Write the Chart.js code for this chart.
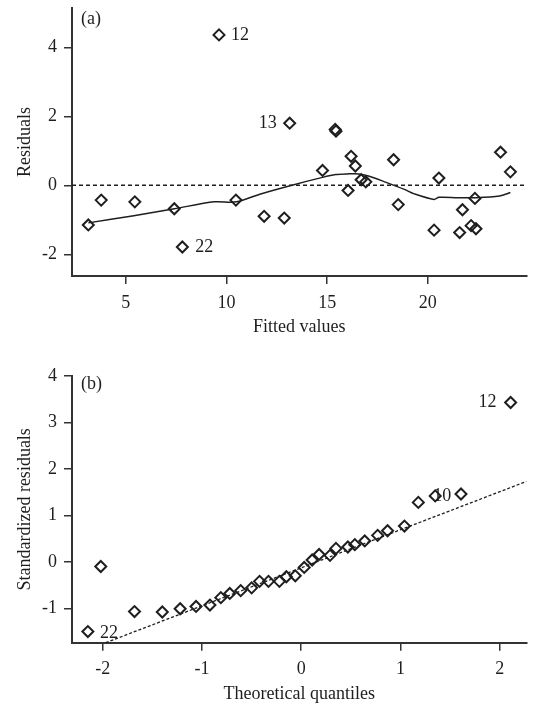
<!DOCTYPE html>
<html>
<head>
<meta charset="utf-8">
<script src="https://cdn.jsdelivr.net/npm/chart.js@4"></script>
<style>
  body { margin: 0; background: #fff; }
  canvas { position: absolute; left: 0; }
  #fitChart { top: 0; }
  #qqChart { top: 340px; }
</style>
</head>
<body>
<canvas id="fitChart" width="534" height="340"></canvas>
<canvas id="qqChart" width="534" height="366"></canvas>
<script>
// (a) residuals vs fitted
const fittedValues = [3.14, 3.78, 5.45, 7.41, 7.81, 9.63, 10.47, 11.87, 12.87, 13.14, 14.77, 15.40, 15.44, 16.04, 16.19, 16.40, 16.69, 16.92, 18.30, 18.53, 20.31, 20.55, 21.58, 21.72, 22.15, 22.34, 22.39, 23.61, 24.10];
const residuals = [-1.15, -0.43, -0.48, -0.68, -1.79, 4.36, -0.43, -0.90, -0.95, 1.80, 0.43, 1.62, 1.57, -0.15, 0.84, 0.56, 0.16, 0.10, 0.74, -0.56, -1.30, 0.21, -1.37, -0.71, -1.17, -0.38, -1.26, 0.96, 0.39];
const smoothX = [3.14, 5.4, 7.41, 9.4, 10.5, 11.7, 13.3, 14.77, 15.42, 16.0, 16.56, 17.05, 17.86, 18.84, 19.33, 20.3, 20.55, 21.5, 22.34, 23.56, 24.10];
const smoothY = [-1.09, -0.88, -0.68, -0.48, -0.48, -0.25, 0.01, 0.23, 0.31, 0.33, 0.33, 0.27, 0.10, -0.12, -0.25, -0.41, -0.35, -0.36, -0.36, -0.31, -0.21];
const fitXTicks = [5, 10, 15, 20];
const fitYTicks = [-2, 0, 2, 4];
const fitXRange = [2.33, 24.9];
const fitYRange = [-2.63, 5.14];
const fitLabelIndex = [5, 9, 4];
const fitLabelText = ['12', '13', '22'];

// (b) normal Q-Q
const theoQuantiles = [-2.15, -2.02, -1.68, -1.40, -1.22, -1.06, -0.92, -0.81, -0.72, -0.61, -0.50, -0.42, -0.33, -0.22, -0.15, -0.06, 0.03, 0.11, 0.18, 0.29, 0.35, 0.47, 0.54, 0.64, 0.77, 0.87, 1.04, 1.18, 1.35, 1.61, 2.11];
const stdResiduals = [-1.50, -0.10, -1.07, -1.08, -1.01, -0.96, -0.93, -0.77, -0.68, -0.62, -0.56, -0.42, -0.42, -0.42, -0.32, -0.30, -0.12, 0.04, 0.16, 0.14, 0.29, 0.32, 0.37, 0.45, 0.57, 0.67, 0.77, 1.28, 1.42, 1.46, 3.43];
const qqLineX = [-1.97, 2.27];
const qqLineY = [-1.74, 1.73];
const qqXTicks = [-2, -1, 0, 1, 2];
const qqYTicks = [-1, 0, 1, 2, 3, 4];
const qqXRange = [-2.31, 2.27];
const qqYRange = [-1.74, 4];
const qqLabelIndex = [0, 28, 30];
const qqLabelText = ['22', '10', '12'];

const FONT = '"Liberation Serif", "Times New Roman", serif';
const INK = '#1e1e1e';

const toPoints = (xs, ys) => xs.map((x, i) => ({ x: x, y: ys[i] }));

// draws the panel tag and the numbers next to the outlying points
const pointLabels = {
    id: 'pointLabels',
    afterDatasetsDraw(chart, args, opts) {
        const ctx = chart.ctx;
        const area = chart.chartArea;
        const xScale = chart.scales.x;
        const yScale = chart.scales.y;
        ctx.save();
        ctx.font = '18px ' + FONT;
        ctx.fillStyle = INK;
        ctx.textBaseline = 'middle';
        ctx.textAlign = 'left';
        ctx.fillText(opts.tag, area.left + 9, area.top + opts.tagDy);
        opts.items.forEach(item => {
            const px = xScale.getPixelForValue(item.x);
            const py = yScale.getPixelForValue(item.y);
            ctx.textAlign = item.side === 'left' ? 'right' : 'left';
            ctx.fillText(item.text, px + item.dx, py + (item.dy || 0));
        });
        ctx.restore();
    }
};

function axis(ticksList, range, size, horizontal, title, titlePad) {
    return {
        type: 'linear',
        min: range[0],
        max: range[1],
        afterBuildTicks: scale => { scale.ticks = ticksList.map(v => ({ value: v })); },
        afterFit: scale => {
            if (horizontal) scale.height = size; else scale.width = size;
            // no extra room for edge labels, the plot box is set by hand
            scale.paddingTop = 0;
            scale.paddingBottom = 0;
            scale.paddingLeft = 0;
            scale.paddingRight = 0;
        },
        grid: { drawOnChartArea: false, drawTicks: true, tickLength: 8, color: '#333', lineWidth: 1.5 },
        border: { display: true, color: '#333', width: 2 },
        ticks: { color: INK, font: { family: FONT, size: 18 }, padding: horizontal ? 8 : 7, maxRotation: 0, autoSkip: false },
        title: { display: true, text: title, color: INK, font: { family: FONT, size: 18 }, padding: titlePad }
    };
}

const markerStyle = {
    showLine: false,
    pointStyle: 'rectRot',
    pointRadius: 5.5,
    pointBorderWidth: 2,
    pointBorderColor: INK,
    pointBackgroundColor: 'rgba(0,0,0,0)',
    clip: false
};

const baseOptions = {
    responsive: false,
    animation: false,
    events: [],
    plugins: { legend: { display: false }, tooltip: { enabled: false } }
};

//fit chart starts
document.addEventListener('DOMContentLoaded', () => {
    const ctx = document.getElementById('fitChart').getContext('2d');
    new Chart(ctx, {
        type: 'scatter',
        data: {
            datasets: [
                Object.assign({ label: 'Residuals', data: toPoints(fittedValues, residuals) }, markerStyle),
                {
                    label: 'Smooth',
                    data: toPoints(smoothX, smoothY),
                    showLine: true, pointRadius: 0, borderColor: INK, borderWidth: 1.5, tension: 0.3, clip: false
                },
                {
                    label: 'Zero',
                    data: toPoints(fitXRange, [0, 0]),
                    showLine: true, pointRadius: 0, borderColor: INK, borderWidth: 1.5, borderDash: [4, 3]
                }
            ]
        },
        options: Object.assign({}, baseOptions, {
            layout: { padding: { top: 8, right: 0, bottom: 0, left: 0 } },
            scales: {
                x: axis(fitXTicks, fitXRange, 64, true, 'Fitted values', { top: 0, bottom: 2 }),
                y: axis(fitYTicks, fitYRange, 72, false, 'Residuals', { top: 14, bottom: 0 })
            },
            plugins: Object.assign({}, baseOptions.plugins, {
                pointLabels: {
                    tag: '(a)', tagDy: 11,
                    items: [
                        { x: fittedValues[fitLabelIndex[0]], y: residuals[fitLabelIndex[0]], text: fitLabelText[0], side: 'right', dx: 12 },
                        { x: fittedValues[fitLabelIndex[1]], y: residuals[fitLabelIndex[1]], text: fitLabelText[1], side: 'left', dx: -13 },
                        { x: fittedValues[fitLabelIndex[2]], y: residuals[fitLabelIndex[2]], text: fitLabelText[2], side: 'right', dx: 13 }
                    ]
                }
            })
        }),
        plugins: [pointLabels]
    });
});
//fit chart ends

//qq chart starts
document.addEventListener('DOMContentLoaded', () => {
    const ctx = document.getElementById('qqChart').getContext('2d');
    new Chart(ctx, {
        type: 'scatter',
        data: {
            datasets: [
                Object.assign({ label: 'Standardized residuals', data: toPoints(theoQuantiles, stdResiduals) }, markerStyle),
                {
                    label: 'QQ line',
                    data: toPoints(qqLineX, qqLineY),
                    showLine: true, pointRadius: 0, borderColor: INK, borderWidth: 1.3, borderDash: [3, 2]
                }
            ]
        },
        options: Object.assign({}, baseOptions, {
            layout: { padding: { top: 36, right: 0, bottom: 0, left: 0 } },
            scales: {
                x: axis(qqXTicks, qqXRange, 63.3, true, 'Theoretical quantiles', { top: 0, bottom: 1 }),
                y: axis(qqYTicks, qqYRange, 72, false, 'Standardized residuals', { top: 14, bottom: 0 })
            },
            plugins: Object.assign({}, baseOptions.plugins, {
                pointLabels: {
                    tag: '(b)', tagDy: 8,
                    items: [
                        { x: theoQuantiles[qqLabelIndex[0]], y: stdResiduals[qqLabelIndex[0]], text: qqLabelText[0], side: 'right', dx: 12, dy: 2 },
                        { x: theoQuantiles[qqLabelIndex[1]], y: stdResiduals[qqLabelIndex[1]], text: qqLabelText[1], side: 'right', dx: -2 },
                        { x: theoQuantiles[qqLabelIndex[2]], y: stdResiduals[qqLabelIndex[2]], text: qqLabelText[2], side: 'left', dx: -14 }
                    ]
                }
            })
        }),
        plugins: [pointLabels]
    });
});
//qq chart ends
</script>
</body>
</html>
